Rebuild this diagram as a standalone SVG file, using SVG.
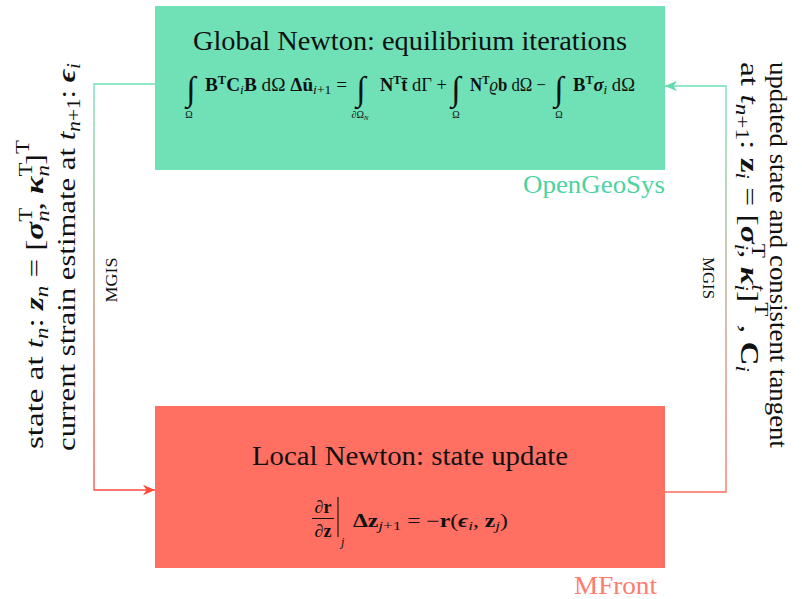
<svg xmlns="http://www.w3.org/2000/svg" width="802" height="599" viewBox="0 0 802 599">
<style>
.t{font-family:"Liberation Serif","Times New Roman","DejaVu Serif",serif;fill:#111}
.b{font-weight:bold}
.i{font-style:italic}
.bi{font-weight:bold;font-style:italic}
.side{font-size:26px}
.eq{font-size:18.5px}
.eq2{font-size:18px}
.int{font-size:34px}
.lim{font-size:10px}
.ttl{font-size:27px}
.lab{font-size:17px}
</style>
<defs>
<linearGradient id="gL" gradientUnits="userSpaceOnUse" x1="0" y1="84" x2="0" y2="490">
<stop offset="0" stop-color="#6fe0b4"/><stop offset="1" stop-color="#ff4a3c"/>
</linearGradient>
<linearGradient id="gR" gradientUnits="userSpaceOnUse" x1="0" y1="492" x2="0" y2="86">
<stop offset="0" stop-color="#ff6a5c"/><stop offset="1" stop-color="#6fe0b4"/>
</linearGradient>
<marker id="arrRed" markerUnits="userSpaceOnUse" markerWidth="14" markerHeight="12" viewBox="0 0 14 12" refX="13" refY="6" orient="auto">
<path d="M13,6 L1,0.8 L4.5,6 L1,11.2 Z" fill="#ff4a3c"/>
</marker>
<marker id="arrGreen" markerUnits="userSpaceOnUse" markerWidth="14" markerHeight="12" viewBox="0 0 14 12" refX="13" refY="6" orient="auto">
<path d="M13,6 L1,0.8 L4.5,6 L1,11.2 Z" fill="#5edcab"/>
</marker>
</defs>
<rect width="802" height="599" fill="#ffffff"/>

<g id="connectors" fill="none" stroke-width="1.3">
<path d="M155,84 H94 V490 H155" stroke="url(#gL)" marker-end="url(#arrRed)"/>
<path d="M665,492 H726 V86 H665" stroke="url(#gR)" marker-end="url(#arrGreen)"/>
<text class="t lab" transform="translate(117,280) rotate(-90)" text-anchor="middle" textLength="45" lengthAdjust="spacingAndGlyphs">MGIS</text>
<text class="t lab" transform="translate(703,278) rotate(90)" text-anchor="middle" textLength="42" lengthAdjust="spacingAndGlyphs">MGIS</text>
</g>

<g id="global">
<rect x="155" y="6" width="510" height="164" fill="#70e0b6"/>
<text class="t ttl" x="193" y="50" textLength="434" lengthAdjust="spacingAndGlyphs">Global Newton: equilibrium iterations</text>
<text class="t int" x="191" y="100" text-anchor="middle">∫</text>
<text class="t lim" x="189" y="118" text-anchor="middle">Ω</text>
<text class="t eq" x="205" y="91" textLength="142" lengthAdjust="spacingAndGlyphs"><tspan class="b">B</tspan><tspan class="b" font-size="12" dy="-7">T</tspan><tspan class="b" dy="7">C</tspan><tspan class="i" font-size="13" dy="3">i</tspan><tspan class="b" dy="-3">B</tspan> dΩ <tspan class="b">Δû</tspan><tspan class="i" font-size="13" dy="3">i</tspan><tspan font-size="13">+1</tspan><tspan dy="-3"> =</tspan></text>
<text class="t int" x="361" y="100" text-anchor="middle">∫</text>
<text class="t lim" x="360" y="118" text-anchor="middle">∂Ω<tspan class="i" font-size="7" dy="2">N</tspan></text>
<text class="t eq" x="380" y="91" textLength="67" lengthAdjust="spacingAndGlyphs"><tspan class="b">N</tspan><tspan class="b" font-size="12" dy="-7">T</tspan><tspan class="b" dy="7">t̄</tspan> dΓ +</text>
<text class="t int" x="456" y="100" text-anchor="middle">∫</text>
<text class="t lim" x="456" y="118" text-anchor="middle">Ω</text>
<text class="t eq" x="470" y="91" textLength="76" lengthAdjust="spacingAndGlyphs"><tspan class="b">N</tspan><tspan class="b" font-size="12" dy="-7">T</tspan><tspan class="i" dy="7">ϱ</tspan><tspan class="b">b</tspan> dΩ −</text>
<text class="t int" x="559" y="100" text-anchor="middle">∫</text>
<text class="t lim" x="559" y="118" text-anchor="middle">Ω</text>
<text class="t eq" x="573" y="91" textLength="62" lengthAdjust="spacingAndGlyphs"><tspan class="b">B</tspan><tspan class="b" font-size="12" dy="-7">T</tspan><tspan class="bi" dy="7">σ</tspan><tspan class="i" font-size="13" dy="3">i</tspan><tspan dy="-3"> dΩ</tspan></text>
<text class="t" x="665" y="193" font-size="26" style="fill:#4cd39f" text-anchor="end" textLength="142" lengthAdjust="spacingAndGlyphs">OpenGeoSys</text>
</g>

<g id="local">
<rect x="155" y="406" width="510" height="162" fill="#ff6f62"/>
<text class="t ttl" x="252" y="465" textLength="316" lengthAdjust="spacingAndGlyphs">Local Newton: state update</text>
<text class="t eq2" x="323" y="513" text-anchor="middle">∂<tspan class="b">r</tspan></text>
<line x1="312" y1="518.5" x2="334" y2="518.5" stroke="#111" stroke-width="1"/>
<text class="t eq2" x="323" y="537" text-anchor="middle">∂<tspan class="b">z</tspan></text>
<line x1="338" y1="497" x2="338" y2="537" stroke="#111" stroke-width="1.1"/>
<text class="t i" x="341" y="546" font-size="12">j</text>
<text class="t eq2" x="353" y="527" textLength="155" lengthAdjust="spacingAndGlyphs"><tspan class="b">Δz</tspan><tspan class="i" font-size="13" dy="3">j</tspan><tspan font-size="13">+1</tspan><tspan dy="-3"> = −</tspan><tspan class="b">r</tspan>(<tspan class="bi">ϵ</tspan><tspan class="i" font-size="13" dy="3">i</tspan><tspan dy="-3">, </tspan><tspan class="b">z</tspan><tspan class="i" font-size="13" dy="3">j</tspan><tspan dy="-3">)</tspan></text>
<text class="t" x="657" y="594" font-size="26" style="fill:#ff7b6e" text-anchor="end" textLength="83" lengthAdjust="spacingAndGlyphs">MFront</text>
</g>

<g id="left-label">
<text class="t side" transform="translate(43,449) rotate(-90)" textLength="309" lengthAdjust="spacingAndGlyphs">state at <tspan class="i">t</tspan><tspan class="i" font-size="18" dy="5">n</tspan><tspan dy="-5">: </tspan><tspan class="bi">z</tspan><tspan class="i" font-size="18" dy="5">n</tspan><tspan dy="-5"> = [</tspan><tspan class="bi">σ</tspan><tspan font-size="18" dy="-11">T</tspan><tspan class="i" font-size="18" dx="-11" dy="17">n</tspan><tspan dy="-6">, </tspan><tspan class="bi">κ</tspan><tspan font-size="18" dy="-11">T</tspan><tspan class="i" font-size="18" dx="-11" dy="17">n</tspan><tspan dy="-6">]</tspan><tspan font-size="18" dy="-14">T</tspan></text>
<text class="t side" transform="translate(75,451) rotate(-90)" textLength="388" lengthAdjust="spacingAndGlyphs">current strain estimate at <tspan class="i">t</tspan><tspan class="i" font-size="18" dy="5">n</tspan><tspan font-size="18">+1</tspan><tspan dy="-5">: </tspan><tspan class="bi">ϵ</tspan><tspan class="i" font-size="18" dy="5">i</tspan></text>
</g>

<g id="right-label">
<text class="t side" transform="translate(770,62) rotate(90)" textLength="386" lengthAdjust="spacingAndGlyphs">updated state and consistent tangent</text>
<text class="t side" transform="translate(741,62) rotate(90)" textLength="310" lengthAdjust="spacingAndGlyphs">at <tspan class="i">t</tspan><tspan class="i" font-size="18" dy="5">n</tspan><tspan font-size="18">+1</tspan><tspan dy="-5">: </tspan><tspan class="b">z</tspan><tspan class="i" font-size="18" dy="5">i</tspan><tspan dy="-5"> = [</tspan><tspan class="bi">σ</tspan><tspan font-size="18" dy="-11">T</tspan><tspan class="i" font-size="18" dx="-11" dy="17">i</tspan><tspan dy="-6">, </tspan><tspan class="bi">κ</tspan><tspan class="i" font-size="18" dy="-11">t</tspan><tspan class="i" font-size="18" dx="-5" dy="17">i</tspan><tspan dy="-6">]</tspan><tspan font-size="18" dy="-14">T</tspan><tspan dy="14"> , </tspan><tspan class="b">C</tspan><tspan class="i" font-size="18" dy="5">i</tspan></text>
</g>
</svg>
